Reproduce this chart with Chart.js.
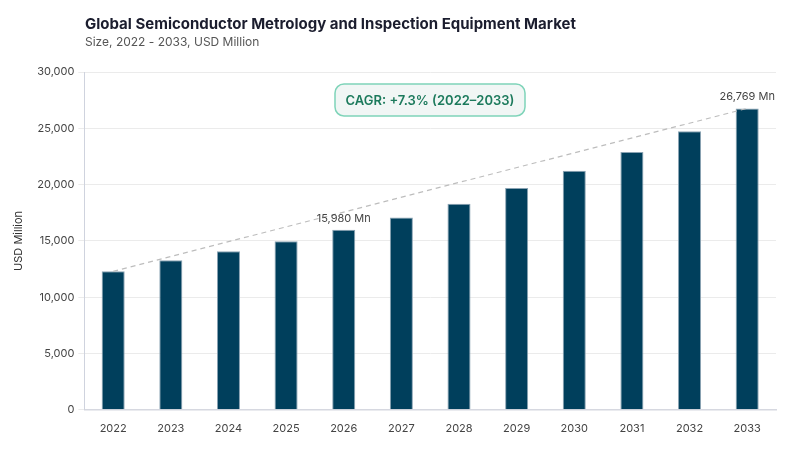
<!DOCTYPE html>
<html>
<head>
<meta charset="utf-8">
<script src="https://cdn.jsdelivr.net/npm/chart.js@4/dist/chart.umd.min.js"></script>
<style>
  html, body { margin: 0; padding: 0; background: #fff; }
  #wrap { width: 800px; height: 450px; }
</style>
</head>
<body>
<div id="wrap"><canvas id="chart"></canvas></div>
<script>
const years = ["2022", "2023", "2024", "2025", "2026", "2027", "2028", "2029", "2030", "2031", "2032", "2033"];
const marketSize = [12300, 13280, 14080, 14970, 15980, 17080, 18300, 19700, 21220, 22890, 24730, 26769];
const labelledYears = ["2026", "2033"];
const yTicks = [0, 5000, 10000, 15000, 20000, 25000, 30000];

const FONT = "Inter, 'DejaVu Sans', sans-serif";

// trend line only from first to last year
var trend = years.map(function (y, i) {
	return (i === 0 || i === years.length - 1) ? marketSize[i] : null;
});

const extras = {
	id: "extras",
	afterDraw: function (chart) {
		var ctx = chart.ctx;
		ctx.save();

		// title + subtitle
		ctx.textAlign = "left";
		ctx.textBaseline = "alphabetic";
		ctx.fillStyle = "#1b1d2e";
		ctx.font = "bold 15px " + FONT;
		ctx.fillText("Global Semiconductor Metrology and Inspection Equipment Market", 85, 29);
		ctx.fillStyle = "#555";
		ctx.font = "12px " + FONT;
		ctx.fillText("Size, 2022 - 2033, USD Million", 85, 46);

		// value labels
		var meta = chart.getDatasetMeta(0);
		ctx.fillStyle = "#444";
		ctx.font = "11px " + FONT;
		ctx.textAlign = "center";
		labelledYears.forEach(function (yr) {
			var i = years.indexOf(yr);
			var bar = meta.data[i];
			ctx.fillText(marketSize[i].toLocaleString("en-US") + " Mn", bar.x, bar.y - 8);
		});

		// CAGR badge
		var bx = 335, by = 84, bw = 190, bh = 32;
		ctx.beginPath();
		ctx.roundRect(bx, by, bw, bh, 9);
		ctx.fillStyle = "#f1f6f5";
		ctx.fill();
		ctx.lineWidth = 1.5;
		ctx.strokeStyle = "#7fd4b9";
		ctx.stroke();
		ctx.fillStyle = "#1c7a5c";
		ctx.font = "600 13px " + FONT;
		ctx.textBaseline = "middle";
		ctx.fillText("CAGR: +7.3% (2022\u20132033)", bx + bw / 2, by + bh / 2 + 1);

		ctx.restore();
	}
};

new Chart(document.getElementById("chart"), {
	type: "bar",
	data: {
		labels: years,
		datasets: [
			{
				label: "Market size",
				data: marketSize,
				backgroundColor: "#003f5c",
				borderColor: "#8aa3b3",
				borderWidth: 1,
				barPercentage: 0.4,
				categoryPercentage: 1.0,
				order: 2
			},
			{
				type: "line",
				label: "Trend",
				data: trend,
				spanGaps: true,
				borderColor: "#bdbdbd",
				borderWidth: 1.2,
				borderDash: [5, 4],
				pointRadius: 0,
				fill: false,
				order: 1
			}
		]
	},
	options: {
		responsive: true,
		maintainAspectRatio: false,
		animation: false,
		layout: { padding: { top: 72, right: 24, left: 8, bottom: 11 } },
		plugins: {
			legend: { display: false },
			tooltip: { enabled: false }
		},
		scales: {
			x: {
				grid: { display: false },
				border: { color: "#d6d8e0", width: 1.5 },
				ticks: { color: "#444", font: { family: FONT, size: 11 }, padding: 4 }
			},
			y: {
				min: 0,
				max: 30000,
				afterBuildTicks: function (axis) {
					axis.ticks = yTicks.map(function (v) { return { value: v }; });
				},
				grid: { color: "#ebebeb", drawTicks: true, tickLength: 6, tickColor: "#ebebeb" },
				border: { color: "#cfd3de", width: 1 },
				ticks: {
					color: "#444",
					font: { family: FONT, size: 11 },
					padding: 4,
					callback: function (v) { return v.toLocaleString("en-US"); }
				},
				title: {
					display: true,
					text: "USD Million",
					color: "#333",
					font: { family: FONT, size: 11 },
					padding: { bottom: 8 }
				}
			}
		}
	},
	plugins: [extras]
});
</script>
</body>
</html>
